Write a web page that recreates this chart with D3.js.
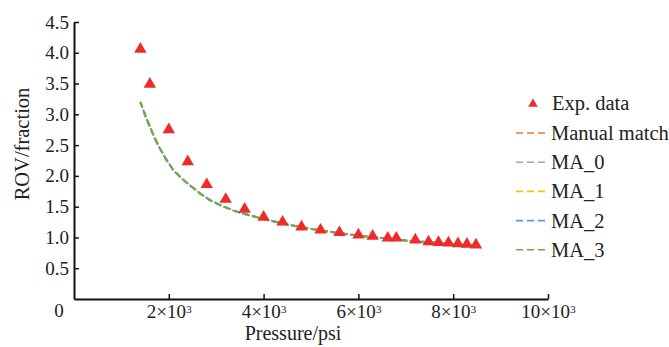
<!DOCTYPE html>
<html><head><meta charset="utf-8">
<script src="https://cdn.jsdelivr.net/npm/d3@7"></script>
<style>body{margin:0;background:#fff}svg{display:block}text{font-family:"Liberation Serif","Times New Roman",serif;fill:#222}</style>
</head><body><svg id="c" width="669" height="347"></svg>
<script>
const expPressure = [1400,1600,2000,2400,2800,3200,3600,4000,4400,4800,5200,5600,6000,6300,6620,6800,7200,7480,7690,7900,8100,8290,8480];
const expROV = [4.06,3.49,2.75,2.23,1.86,1.62,1.46,1.33,1.25,1.17,1.12,1.08,1.04,1.02,0.99,0.99,0.96,0.93,0.92,0.91,0.90,0.89,0.88];
const fitPressure = [1400,1500,1600,1700,1800,1950,2100,2270,2440,2650,2860,3070,3350,3560,4000,4500,5000,5500,6000,6500,7000,7500,8000,8500];
const fitROV = [3.20,2.99,2.80,2.62,2.46,2.26,2.09,1.96,1.85,1.72,1.61,1.53,1.44,1.39,1.30,1.21,1.14,1.08,1.03,0.99,0.95,0.92,0.89,0.86];
const seriesNames = ["Manual match","MA_0","MA_1","MA_2","MA_3"];
const seriesColors = ["#ED7D31","#A5A5A5","#FFC000","#5B9BD5","#70AD47"];
const seriesValues = [fitROV, fitROV, fitROV, fitROV, fitROV];
const xTicks = [2000,4000,6000,8000,10000];
const yTicks = [0.5,1.0,1.5,2.0,2.5,3.0,3.5,4.0,4.5];

const svg = d3.select("#c");
const x = d3.scaleLinear().domain([0,10000]).range([74,548]);
const y = d3.scaleLinear().domain([0,4.5]).range([299,22]);
const FS = 19;

// lines
const line = d3.line().x(d=>x(d[0])).y(d=>y(d[1]));
seriesValues.forEach((vals,k)=>{
  svg.append("path")
    .attr("d", line(fitPressure.map((p,i)=>[p,vals[i]])))
    .attr("fill","none").attr("stroke",seriesColors[k]).attr("stroke-width",2)
    .attr("stroke-dasharray","6,4").attr("stroke-dashoffset", k===3?2:0);
});

// points
const tri = d3.symbol().type(d3.symbolTriangle).size(66);
svg.append("g").selectAll("path").data(expPressure.map((p,i)=>[p,expROV[i]])).join("path")
  .attr("d",tri).attr("transform",d=>`translate(${x(d[0])},${y(d[1])})`)
  .attr("fill","#EE2A2A");

// axes
const yAxis = d3.axisLeft(y).tickValues(yTicks).tickFormat(d3.format(".1f")).tickSizeInner(-5).tickSizeOuter(0).tickPadding(5);
const gy = svg.append("g").attr("transform","translate(74,0)").call(yAxis);
const xAxis = d3.axisBottom(x).tickValues(xTicks).tickSizeInner(-5).tickSizeOuter(0).tickPadding(6);
const gx = svg.append("g").attr("transform","translate(0,299)").call(xAxis);
[gx,gy].forEach(g=>{
  g.select(".domain").attr("stroke","#111").attr("stroke-width",2);
  g.selectAll(".tick line").attr("stroke","#111").attr("stroke-width",1.5);
  g.selectAll("text").attr("font-size",FS).attr("font-family","Liberation Serif").attr("fill","#222");
});
gx.selectAll(".tick text").each(function(d){
  const t = d3.select(this); t.text(null);
  t.append("tspan").text((d/1000)+"×10");
  t.append("tspan").attr("dy","-0.5em").attr("font-size","0.6em").text("3");
});
svg.append("text").attr("x",59).attr("y",317).attr("text-anchor","middle").attr("font-size",FS).text("0");

// titles
svg.append("text").attr("x",293).attr("y",340).attr("text-anchor","middle").attr("font-size",20).text("Pressure/psi");
svg.append("text").attr("transform","translate(29,144) rotate(-90)").attr("text-anchor","middle").attr("font-size",20.5).text("ROV/fraction");

// legend
const lg = svg.append("g");
lg.append("path").attr("d",d3.symbol().type(d3.symbolTriangle).size(40)()).attr("transform","translate(533,104)").attr("fill","#EE2A2A");
lg.append("text").attr("x",552).attr("y",110).attr("font-size",20.5).text("Exp. data");
seriesNames.forEach((n,k)=>{
  const yy = 133 + k*29.2;
  lg.append("line").attr("x1",516).attr("x2",548).attr("y1",yy).attr("y2",yy)
    .attr("stroke",seriesColors[k]).attr("stroke-width",1.6).attr("stroke-dasharray","7,4");
  lg.append("text").attr("x",551).attr("y",yy+7).attr("font-size",20.5).text(n);
});
</script></body></html>
